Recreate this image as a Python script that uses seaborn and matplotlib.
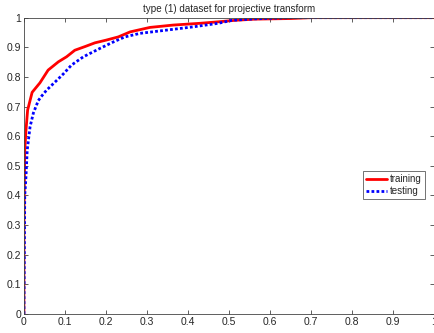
import matplotlib
matplotlib.use("Agg")
import matplotlib.pyplot as plt
import seaborn as sns
import pandas as pd

train_fpr = [0.0, 0.0, 0.002, 0.005, 0.009, 0.02, 0.039, 0.059, 0.084, 0.104, 0.124, 0.15, 0.173,
             0.2, 0.23, 0.259, 0.307, 0.364, 0.43, 0.474, 0.515, 0.563, 0.65, 0.7, 0.8, 1.0]
train_tpr = [0.0, 0.3, 0.55, 0.62, 0.688, 0.748, 0.78, 0.823, 0.851, 0.868, 0.89, 0.903, 0.915,
             0.924, 0.935, 0.952, 0.967, 0.975, 0.981, 0.986, 0.991, 0.995, 0.997, 1.0, 1.0, 1.0]
test_fpr = [0.0, 0.002, 0.005, 0.008, 0.015, 0.023, 0.035, 0.043, 0.055, 0.076, 0.096, 0.116, 0.145,
            0.185, 0.218, 0.246, 0.283, 0.348, 0.413, 0.474, 0.507, 0.563, 0.65, 0.8, 1.0]
test_tpr = [0.0, 0.4, 0.463, 0.553, 0.632, 0.678, 0.72, 0.735, 0.755, 0.783, 0.81, 0.84, 0.868,
            0.896, 0.918, 0.935, 0.947, 0.958, 0.969, 0.981, 0.991, 0.996, 1.0, 1.0, 1.0]
x_ticks = [0, 0.1, 0.2, 0.3, 0.4, 0.5, 0.6, 0.7, 0.8, 0.9, 1]
y_ticks = [0, 0.1, 0.2, 0.3, 0.4, 0.5, 0.6, 0.7, 0.8, 0.9, 1]
tick_labels = ["0", "0.1", "0.2", "0.3", "0.4", "0.5", "0.6", "0.7", "0.8", "0.9", "1"]

sns.set_style("white")
plt.rcParams["font.family"] = ["Liberation Sans", "DejaVu Sans"]

fig = plt.figure(figsize=(4.35, 3.33), dpi=100)
ax = fig.add_axes([0.055, 0.057, 0.943, 0.890])

df_train = pd.DataFrame({"fpr": train_fpr, "tpr": train_tpr})
df_test = pd.DataFrame({"fpr": test_fpr, "tpr": test_tpr})
sns.lineplot(data=df_train, x="fpr", y="tpr", ax=ax, color="#ff0000", lw=2.0,
             sort=False, estimator=None, label="training")
sns.lineplot(data=df_test, x="fpr", y="tpr", ax=ax, color="#0000ff", lw=2.0,
             linestyle=(0, (1, 0.8)), sort=False, estimator=None, label="testing")

ax.set_xlim(0, 1)
ax.set_ylim(0, 1)
ax.set_xticks(x_ticks)
ax.set_xticklabels(tick_labels)
ax.set_yticks(y_ticks)
ax.set_yticklabels(tick_labels)
ax.set_xlabel("")
ax.set_ylabel("")
ax.tick_params(direction="in", length=3, width=0.6, labelsize=7.5, color="#444444",
               top=True, right=True, bottom=True, left=True, pad=2)
for s in ax.spines.values():
    s.set_linewidth(0.6)
    s.set_color("#444444")
ax.set_title("type (1) dataset for projective transform", fontsize=7.1, pad=4)

leg = ax.legend(loc="center right", bbox_to_anchor=(0.977, 0.435), fontsize=7,
                frameon=True, fancybox=False, handlelength=2.2, borderpad=0.3,
                labelspacing=0.2, handletextpad=0.3, borderaxespad=0)
leg.get_frame().set_edgecolor("#333333")
leg.get_frame().set_linewidth(0.6)

fig.savefig("out.png", dpi=100)
